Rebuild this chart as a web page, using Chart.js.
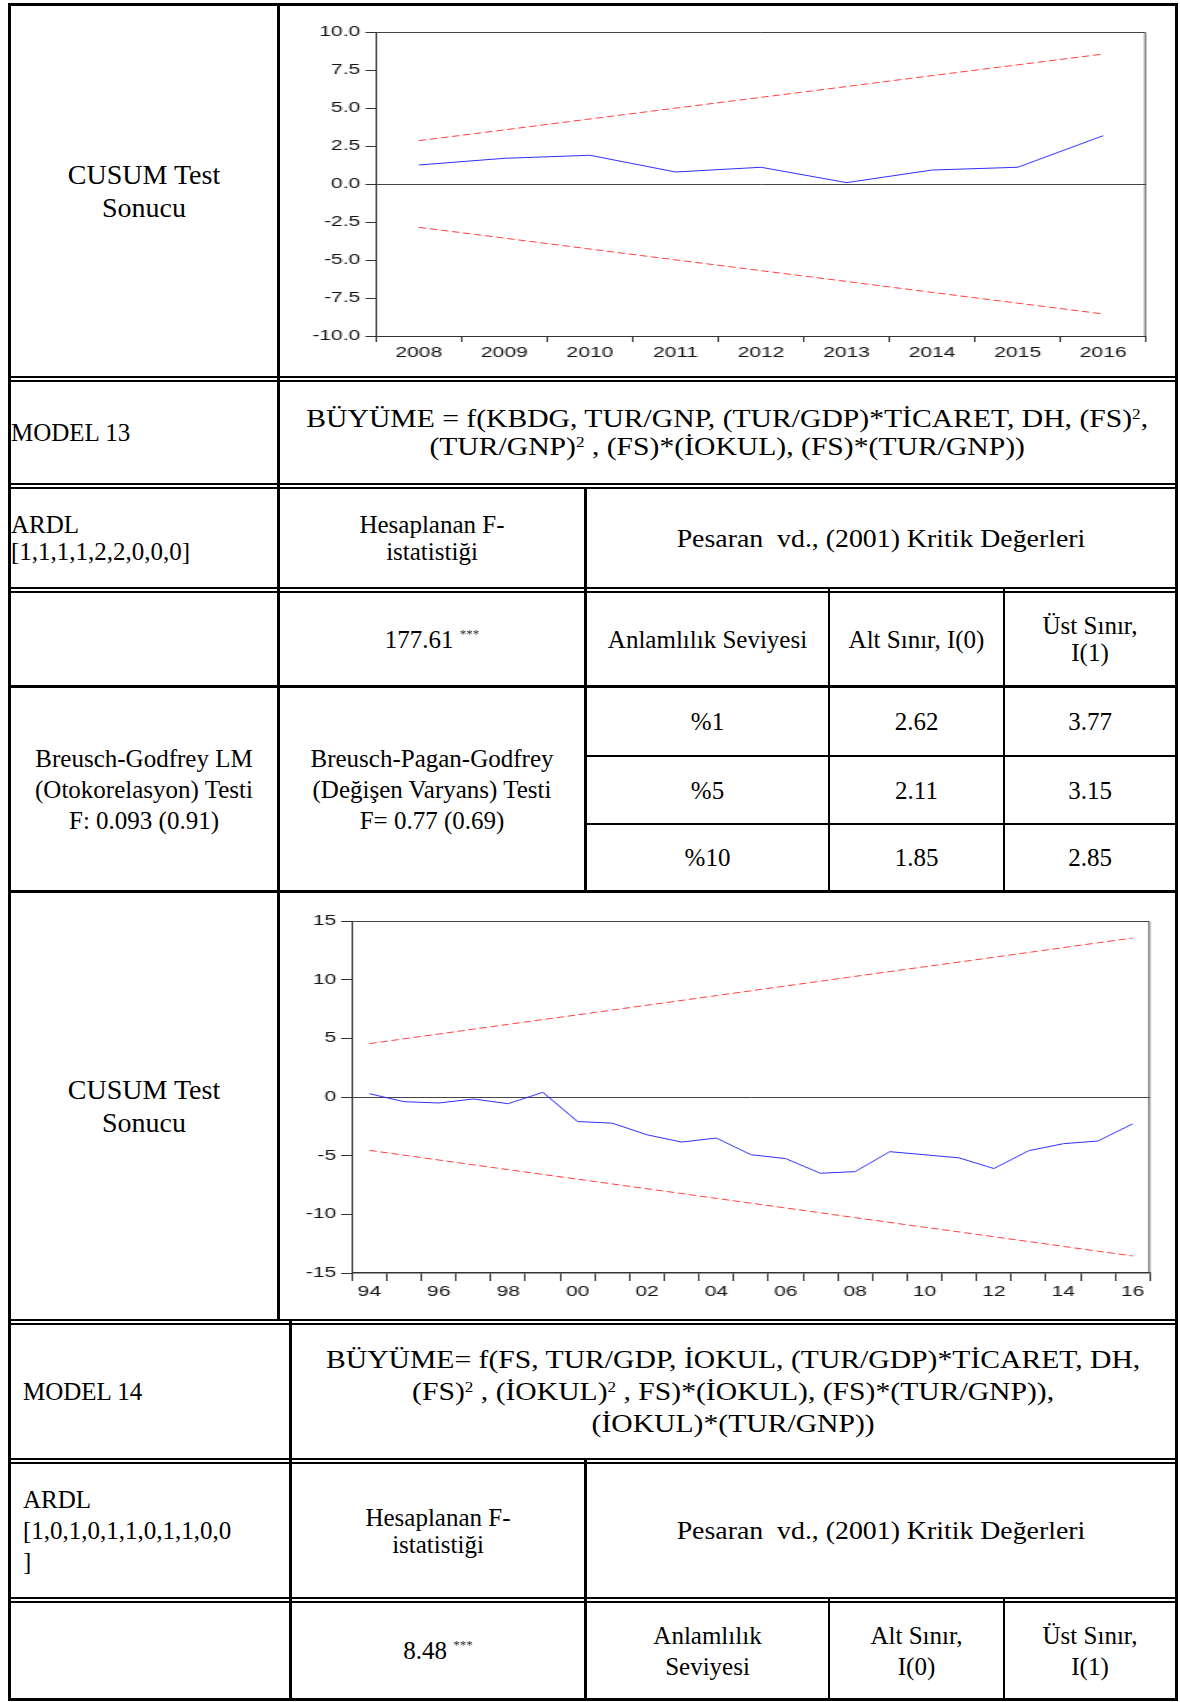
<!DOCTYPE html>
<html>
<head>
<meta charset="utf-8">
<script src="https://cdn.jsdelivr.net/npm/chart.js@4.4.0/dist/chart.umd.min.js"></script>
<style>
html, body { margin: 0; padding: 0; background: #fff; }
#page { position: relative; width: 1180px; height: 1702px; overflow: hidden;
  font-family: "Liberation Serif", "Times New Roman", serif; font-size: 25px; color: #000; }
.ln { position: absolute; background: #000; }
.cell { position: absolute; display: flex; align-items: center; justify-content: center; text-align: center; }
.cell.left { justify-content: flex-start; text-align: left; }
.t { display: inline-block; white-space: nowrap; line-height: 27px; transform-origin: center; }
.left .t { transform-origin: left center; }
.big { font-size: 28px; line-height: 33px; }
.wide { font-size: 26px; transform: scaleX(1.14); }
.mid { font-size: 26px; transform: scaleX(1.07); }
sup { font-size: 15px; line-height: 0; vertical-align: 0.55em; }
.st { font-size: 13px; line-height: 0; vertical-align: 0.8em; color: #333; }
canvas { position: absolute; }
</style>
</head>
<body>
<div id="page">

  <!-- lines -->
  <div class="ln" style="left:8px;top:3px;width:1170px;height:3px"></div>
  <div class="ln" style="left:8px;top:376px;width:1170px;height:2px"></div>
  <div class="ln" style="left:8px;top:380px;width:1170px;height:2px"></div>
  <div class="ln" style="left:8px;top:483px;width:1170px;height:2px"></div>
  <div class="ln" style="left:8px;top:487px;width:1170px;height:2px"></div>
  <div class="ln" style="left:8px;top:587px;width:1170px;height:2px"></div>
  <div class="ln" style="left:8px;top:591px;width:1170px;height:2px"></div>
  <div class="ln" style="left:8px;top:685px;width:1170px;height:3px"></div>
  <div class="ln" style="left:585px;top:755px;width:593px;height:2px"></div>
  <div class="ln" style="left:585px;top:823px;width:593px;height:2px"></div>
  <div class="ln" style="left:8px;top:890px;width:1170px;height:3px"></div>
  <div class="ln" style="left:8px;top:1319px;width:1170px;height:2px"></div>
  <div class="ln" style="left:8px;top:1323px;width:1170px;height:2px"></div>
  <div class="ln" style="left:8px;top:1458px;width:1170px;height:2px"></div>
  <div class="ln" style="left:8px;top:1462px;width:1170px;height:2px"></div>
  <div class="ln" style="left:8px;top:1597px;width:1170px;height:2px"></div>
  <div class="ln" style="left:8px;top:1601px;width:1170px;height:2px"></div>
  <div class="ln" style="left:8px;top:1698px;width:1170px;height:3px"></div>

  <div class="ln" style="left:8px;top:3px;width:3px;height:1698px"></div>
  <div class="ln" style="left:1175px;top:3px;width:3px;height:1698px"></div>
  <div class="ln" style="left:277px;top:3px;width:3px;height:1318px"></div>
  <div class="ln" style="left:289px;top:1321px;width:3px;height:380px"></div>
  <div class="ln" style="left:584px;top:487px;width:3px;height:405px"></div>
  <div class="ln" style="left:584px;top:1460px;width:3px;height:241px"></div>
  <div class="ln" style="left:828px;top:589px;width:2px;height:302px"></div>
  <div class="ln" style="left:828px;top:1599px;width:2px;height:102px"></div>
  <div class="ln" style="left:1003px;top:589px;width:2px;height:302px"></div>
  <div class="ln" style="left:1003px;top:1599px;width:2px;height:102px"></div>

  <!-- row 1 -->
  <div class="cell" style="left:11px;top:6px;width:266px;height:370px"><span class="t big">CUSUM Test<br>Sonucu</span></div>
  <canvas id="cusum1" width="580" height="362" style="left:296px;top:10px;width:870px;height:362px"></canvas>

  <!-- row 2 -->
  <div class="cell left" style="left:11px;top:382px;width:266px;height:101px"><span class="t">MODEL 13</span></div>
  <div class="cell" style="left:280px;top:382px;width:895px;height:101px"><span class="t wide" style="line-height:28px">BÜYÜME = f(KBDG, TUR/GNP, (TUR/GDP)*TİCARET, DH, (FS)<sup>2</sup>,<br>(TUR/GNP)<sup>2</sup> , (FS)*(İOKUL), (FS)*(TUR/GNP))</span></div>

  <!-- row 3 -->
  <div class="cell left" style="left:11px;top:489px;width:266px;height:98px"><span class="t">ARDL<br>[1,1,1,1,2,2,0,0,0]</span></div>
  <div class="cell" style="left:280px;top:489px;width:304px;height:98px"><span class="t">Hesaplanan F-<br>istatistiği</span></div>
  <div class="cell" style="left:587px;top:489px;width:588px;height:98px"><span class="t mid">Pesaran&nbsp; vd., (2001) Kritik Değerleri</span></div>

  <!-- row 4 -->
  <div class="cell" style="left:280px;top:593px;width:304px;height:92px"><span class="t">177.61 <span class="st">***</span></span></div>
  <div class="cell" style="left:587px;top:593px;width:241px;height:92px"><span class="t">Anlamlılık Seviyesi</span></div>
  <div class="cell" style="left:830px;top:593px;width:173px;height:92px"><span class="t">Alt Sınır, I(0)</span></div>
  <div class="cell" style="left:1005px;top:593px;width:170px;height:92px"><span class="t">Üst Sınır,<br>I(1)</span></div>

  <!-- row 5 -->
  <div class="cell" style="left:11px;top:688px;width:266px;height:202px"><span class="t" style="line-height:31px">Breusch-Godfrey LM<br>(Otokorelasyon) Testi<br>F: 0.093 (0.91)</span></div>
  <div class="cell" style="left:280px;top:688px;width:304px;height:202px"><span class="t" style="line-height:31px">Breusch-Pagan-Godfrey<br>(Değişen Varyans) Testi<br>F= 0.77 (0.69)</span></div>
  <div class="cell" style="left:587px;top:688px;width:241px;height:67px"><span class="t">%1</span></div>
  <div class="cell" style="left:830px;top:688px;width:173px;height:67px"><span class="t">2.62</span></div>
  <div class="cell" style="left:1005px;top:688px;width:170px;height:67px"><span class="t">3.77</span></div>
  <div class="cell" style="left:587px;top:757px;width:241px;height:66px"><span class="t">%5</span></div>
  <div class="cell" style="left:830px;top:757px;width:173px;height:66px"><span class="t">2.11</span></div>
  <div class="cell" style="left:1005px;top:757px;width:170px;height:66px"><span class="t">3.15</span></div>
  <div class="cell" style="left:587px;top:825px;width:241px;height:65px"><span class="t">%10</span></div>
  <div class="cell" style="left:830px;top:825px;width:173px;height:65px"><span class="t">1.85</span></div>
  <div class="cell" style="left:1005px;top:825px;width:170px;height:65px"><span class="t">2.85</span></div>

  <!-- row 6 -->
  <div class="cell" style="left:11px;top:893px;width:266px;height:426px"><span class="t big">CUSUM Test<br>Sonucu</span></div>
  <canvas id="cusum2" width="586" height="418" style="left:290px;top:900px;width:879px;height:418px"></canvas>

  <!-- row 7 -->
  <div class="cell left" style="left:23px;top:1325px;width:266px;height:133px"><span class="t">MODEL 14</span></div>
  <div class="cell" style="left:292px;top:1325px;width:883px;height:133px"><span class="t wide" style="line-height:32px">BÜYÜME= f(FS, TUR/GDP, İOKUL, (TUR/GDP)*TİCARET, DH,<br>(FS)<sup>2</sup> , (İOKUL)<sup>2</sup> , FS)*(İOKUL), (FS)*(TUR/GNP)),<br>(İOKUL)*(TUR/GNP))</span></div>

  <!-- row 8 -->
  <div class="cell left" style="left:23px;top:1464px;width:266px;height:133px"><span class="t" style="line-height:31px">ARDL<br>[1,0,1,0,1,1,0,1,1,0,0<br>]</span></div>
  <div class="cell" style="left:292px;top:1464px;width:292px;height:133px"><span class="t">Hesaplanan F-<br>istatistiği</span></div>
  <div class="cell" style="left:587px;top:1464px;width:588px;height:133px"><span class="t mid">Pesaran&nbsp; vd., (2001) Kritik Değerleri</span></div>

  <!-- row 9 -->
  <div class="cell" style="left:292px;top:1603px;width:292px;height:95px"><span class="t">8.48 <span class="st">***</span></span></div>
  <div class="cell" style="left:587px;top:1603px;width:241px;height:95px"><span class="t" style="line-height:31px">Anlamlılık<br>Seviyesi</span></div>
  <div class="cell" style="left:830px;top:1603px;width:173px;height:95px"><span class="t" style="line-height:31px">Alt Sınır,<br>I(0)</span></div>
  <div class="cell" style="left:1005px;top:1603px;width:170px;height:95px"><span class="t" style="line-height:31px">Üst Sınır,<br>I(1)</span></div>

</div>

<script>
// CUSUM test, model 13
const years1 = ["2008", "2009", "2010", "2011", "2012", "2013", "2014", "2015", "2016"];
const cusum1 = [1.25, 1.69, 1.89, 0.79, 1.10, 0.09, 0.92, 1.10, 3.18];
const upper1 = [2.85, 3.56, 4.28, 4.99, 5.70, 6.41, 7.13, 7.84, 8.55];
const lower1 = [-2.85, -3.56, -4.28, -4.99, -5.70, -6.41, -7.13, -7.84, -8.55];
const yTicks1 = [-10, -7.5, -5, -2.5, 0, 2.5, 5, 7.5, 10];

// CUSUM test, model 14
const years2 = ["94", "95", "96", "97", "98", "99", "00", "01", "02", "03", "04", "05",
                "06", "07", "08", "09", "10", "11", "12", "13", "14", "15", "16"];
const cusum2 = [0.28, -0.40, -0.51, -0.17, -0.57, 0.40, -2.09, -2.23, -3.22, -3.84, -3.50, -4.92,
                -5.25, -6.50, -6.36, -4.66, -4.92, -5.19, -6.10, -4.58, -3.98, -3.75, -2.29];
const upper2 = [4.55, 4.96, 5.37, 5.78, 6.19, 6.60, 7.00, 7.41, 7.82, 8.23, 8.64, 9.05,
                9.46, 9.87, 10.28, 10.69, 11.10, 11.50, 11.91, 12.32, 12.73, 13.14, 13.55];
const lower2 = [-4.55, -4.96, -5.37, -5.78, -6.19, -6.60, -7.00, -7.41, -7.82, -8.23, -8.64, -9.05,
                -9.46, -9.87, -10.28, -10.69, -11.10, -11.50, -11.91, -12.32, -12.73, -13.14, -13.55];
const yTicks2 = [-15, -10, -5, 0, 5, 10, 15];

const labelFont = { family: "'Liberation Sans', Arial, sans-serif", size: 14 };

// top and right edge of the plot box
const frame = {
  id: "frame",
  afterDraw(chart) {
    const a = chart.chartArea;
    const c = chart.ctx;
    c.save();
    c.strokeStyle = "#444";
    c.lineWidth = 1;
    c.beginPath();
    c.moveTo(a.left, a.top + 0.5);
    c.lineTo(a.right - 0.5, a.top + 0.5);
    c.lineTo(a.right - 0.5, a.bottom);
    c.stroke();
    c.restore();
  }
};

function cusumChart(id, labels, cusum, upper, lower, yTicks, opt) {
  const ctx = document.getElementById(id);
  const dash = { borderColor: "#ff3c3c", borderWidth: 1, borderDash: [5, 2.5], pointRadius: 0, tension: 0, fill: false };
  return new Chart(ctx, {
    type: "line",
    data: {
      labels: labels,
      datasets: [
        { label: "CUSUM", data: cusum, borderColor: "#2e2eff", borderWidth: 1, pointRadius: 0, tension: 0, fill: false },
        Object.assign({ label: "5% Significance", data: upper }, dash),
        Object.assign({ label: "5% Significance ", data: lower }, dash)
      ]
    },
    options: {
      responsive: false,
      animation: false,
      devicePixelRatio: 1,
      layout: { padding: opt.pad },
      plugins: { legend: { display: false }, tooltip: { enabled: false } },
      scales: {
        x: {
          type: "category",
          offset: true,
          grid: { offset: true, drawOnChartArea: false, drawTicks: true, tickLength: opt.xTick, tickColor: "#333", tickWidth: 1 },
          border: { display: true, color: "#333", width: opt.xBorder },
          ticks: { autoSkip: false, maxRotation: 0, minRotation: 0, padding: opt.xPad, color: "#111", font: labelFont, callback: opt.xCb },
          afterFit: s => { s.height = opt.xH; }
        },
        y: {
          min: yTicks[0],
          max: yTicks[yTicks.length - 1],
          afterBuildTicks: s => { s.ticks = yTicks.map(v => ({ value: v })); },
          grid: {
            drawTicks: true,
            tickLength: opt.yTick,
            tickColor: "#333",
            lineWidth: 1,
            color: c => (c.tick && c.tick.value === 0 ? "#444" : "rgba(0,0,0,0)")
          },
          border: { display: true, color: "#333", width: 1 },
          ticks: { padding: opt.yPad, color: "#111", font: labelFont, callback: opt.yCb },
          afterFit: s => { s.width = opt.yW; }
        }
      }
    },
    plugins: [frame]
  });
}

cusumChart("cusum1", years1, cusum1, upper1, lower1, yTicks1, {
  pad: { top: 22, right: 13.33, left: 0, bottom: 0 },
  yW: 53.33, xH: 36, yTick: 7, yPad: 3.5, xTick: 6, xPad: 3, xBorder: 1,
  yCb: v => Number(v).toFixed(1),
  xCb: function (v, i) { return this.getLabelForValue(v); }
});

cusumChart("cusum2", years2, cusum2, upper2, lower2, yTicks2, {
  pad: { top: 21, right: 12.67, left: 0, bottom: 0 },
  yW: 41.33, xH: 45, yTick: 7.3, yPad: 3.3, xTick: 8, xPad: 2.5, xBorder: 1.5,
  yCb: v => String(v),
  xCb: function (v, i) { return i % 2 === 0 ? this.getLabelForValue(v) : ""; }
});
</script>
</body>
</html>
